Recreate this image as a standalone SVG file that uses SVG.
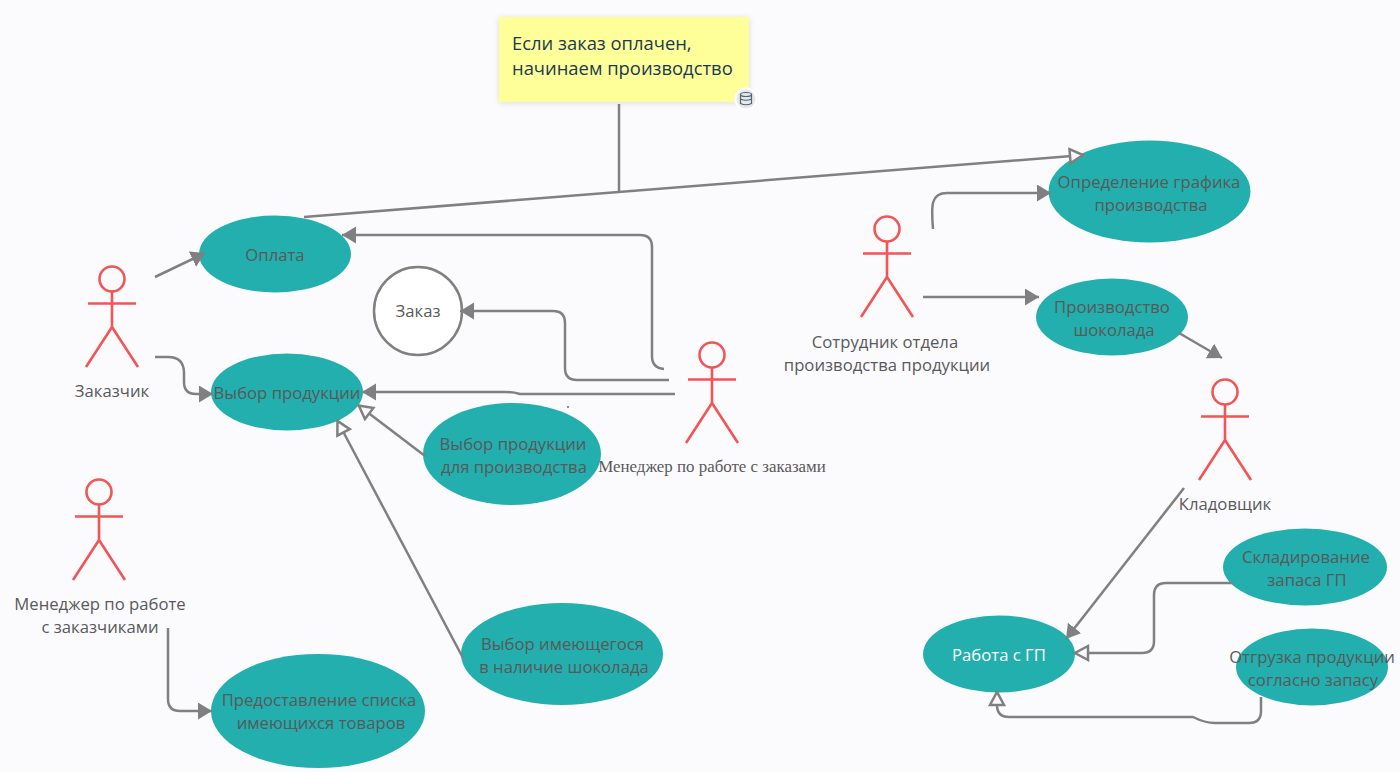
<svg xmlns="http://www.w3.org/2000/svg" width="1400" height="772" viewBox="0 0 1400 772">
<style>
text{font-family:"Open Sans","Noto Sans","DejaVu Sans",sans-serif;font-size:16.700px;fill:#595959;text-anchor:middle}
.uc{fill:#22afae}
.c{fill:none;stroke:#808080;stroke-width:2.5;stroke-linejoin:round}
.a{fill:none;stroke:#f25555;stroke-width:2.6;stroke-linejoin:round}
.note{text-anchor:start;font-size:18.400px;fill:#1a3a52}
</style>
<defs>
<filter id="sh" x="-10%" y="-10%" width="120%" height="125%"><feDropShadow dx="0" dy="1" stdDeviation="3" flood-color="#000" flood-opacity="0.12"/></filter>
<g id="actor"><circle cx="0" cy="0" r="12.5" fill="#fbfbfe" stroke="#f25555" stroke-width="2.6"/><path class="a" d="M0 12.5V49M-24 24.500H24M-26 88L0 48L26 88"/></g>
<marker id="fill" markerWidth="16" markerHeight="18" refX="14" refY="8.500" orient="auto" markerUnits="userSpaceOnUse"><path d="M0 0L14 8.500L0 17Z" fill="#808080"/></marker>
<marker id="open" markerWidth="20" markerHeight="20" refX="16" refY="9" orient="auto" markerUnits="userSpaceOnUse"><path d="M2 2L15 9L2 16Z" fill="#fbfbfe" stroke="#808080" stroke-width="2.500"/></marker>
</defs>
<rect width="1400" height="772" fill="#fbfbfe"/>
<g id="note"><rect x="499" y="17" width="250" height="85" fill="#ffff99" filter="url(#sh)"/><text x="512" y="50" class="note" style="text-anchor:start">Если заказ оплачен,</text><text x="512" y="75" class="note" style="text-anchor:start">начинаем производство</text>
<circle cx="746" cy="99" r="10.500" fill="#e6e8ea" stroke="#fff" stroke-width="2"/><g fill="none" stroke="#4f6475" stroke-width="1.200"><ellipse cx="746" cy="94.500" rx="5.500" ry="2"/><path d="M740.500 94.500V103.500Q746 106 751.500 103.500V94.500M740.500 99Q746 101.500 751.500 99"/></g></g>
<g id="actor-customer"><use href="#actor" x="112" y="279"/><text x="112" y="397">Заказчик</text></g>
<g id="actor-order-manager"><use href="#actor" x="712" y="355"/><text x="712" y="472" style="font-family:'Liberation Serif',serif;font-size:16.900px">Менеджер по работе с заказами</text></g>
<g id="actor-production"><use href="#actor" x="887" y="229"/><text x="885" y="348">Сотрудник отдела</text><text x="887" y="371">производства продукции</text></g>
<g id="actor-storekeeper"><use href="#actor" x="1225" y="392"/><text x="1225" y="510">Кладовщик</text></g>
<g id="actor-client-manager"><use href="#actor" x="99" y="492"/><text x="100" y="610">Менеджер по работе</text><text x="100" y="633">с заказчиками</text></g>
<g id="uc-pay"><ellipse class="uc" cx="275" cy="254" rx="76" ry="38.500"/><text x="275" y="261">Оплата</text></g>
<g id="uc-select"><ellipse class="uc" cx="287" cy="392" rx="76" ry="38.500"/><text x="287" y="399">Выбор продукции</text></g>
<g id="uc-order"><circle cx="418" cy="311" r="44" fill="#fff" stroke="#808080" stroke-width="2.500"/><text x="418" y="317">Заказ</text></g>
<g id="uc-select-prod"><ellipse class="uc" cx="512" cy="454" rx="89" ry="51"/><text x="513" y="450">Выбор продукции</text><text x="514" y="473">для производства</text></g>
<g id="uc-select-stock"><ellipse class="uc" cx="562" cy="654" rx="101" ry="51"/><text x="562.500" y="650">Выбор имеющегося</text><text x="564" y="673">в наличие шоколада</text></g>
<g id="uc-list"><ellipse class="uc" cx="318" cy="711" rx="107" ry="57"/><text x="319" y="706">Предоставление списка</text><text x="321" y="729">имеющихся товаров</text></g>
<g id="uc-schedule"><ellipse class="uc" cx="1149.500" cy="191.500" rx="101" ry="51"/><text x="1149" y="188">Определение графика</text><text x="1151" y="211">производства</text></g>
<g id="uc-produce"><ellipse class="uc" cx="1112" cy="317" rx="76" ry="38.500"/><text x="1112" y="313">Производство</text><text x="1114" y="336">шоколада</text></g>
<g id="uc-gp"><ellipse class="uc" cx="999" cy="654" rx="76" ry="38.500"/><text x="999" y="661" style="fill:#fff">Работа с ГП</text></g>
<g id="uc-store"><ellipse class="uc" cx="1305" cy="567" rx="82" ry="38.500"/><text x="1306" y="563">Складирование</text><text x="1307" y="586">запаса ГП</text></g>
<g id="uc-ship"><ellipse class="uc" cx="1312" cy="667" rx="76" ry="38.500"/><text x="1312" y="663">Отгрузка продукции</text><text x="1313" y="686">согласно запасу</text></g>
<circle cx="568" cy="407" r="1" fill="#666"/>
<g id="connectors">
<path class="c" d="M619 104V192"/>
<path class="c" marker-end="url(#open)" d="M304 217L1084 155"/>
<path class="c" marker-end="url(#fill)" d="M155 277L205 253"/>
<path class="c" marker-end="url(#fill)" d="M155 357H168Q184 357 184 373V382Q184 394 196 394H213"/>
<path class="c" marker-end="url(#fill)" d="M664 369Q652 368 652 356V247Q652 235 640 235H342"/>
<path class="c" marker-end="url(#fill)" d="M669 380H577Q565 380 565 368V323Q565 311 553 311H460"/>
<path class="c" marker-end="url(#fill)" d="M675 394H520Q514 392 505 392H362"/>
<path class="c" marker-end="url(#open)" d="M425 456L358 405"/>
<path class="c" marker-end="url(#open)" d="M463 658L337 420"/>
<path class="c" marker-end="url(#fill)" d="M168 628V699Q168 711 180 711H212"/>
<path class="c" marker-end="url(#fill)" d="M933 229C931 205 931 193 947 193H1051"/>
<path class="c" marker-end="url(#fill)" d="M923 297H1039"/>
<path class="c" marker-end="url(#fill)" d="M1179 333L1222 358"/>
<path class="c" marker-end="url(#fill)" d="M1184 488L1066 639"/>
<path class="c" marker-end="url(#open)" d="M1233 583H1166Q1154 583 1154 595V641Q1154 653 1142 653H1074"/>
<path class="c" marker-end="url(#open)" d="M1261 697V711Q1261 723 1249 723H1215Q1205 723 1193 717H1009Q997 717 997 705V691"/>
</g>
</svg>
